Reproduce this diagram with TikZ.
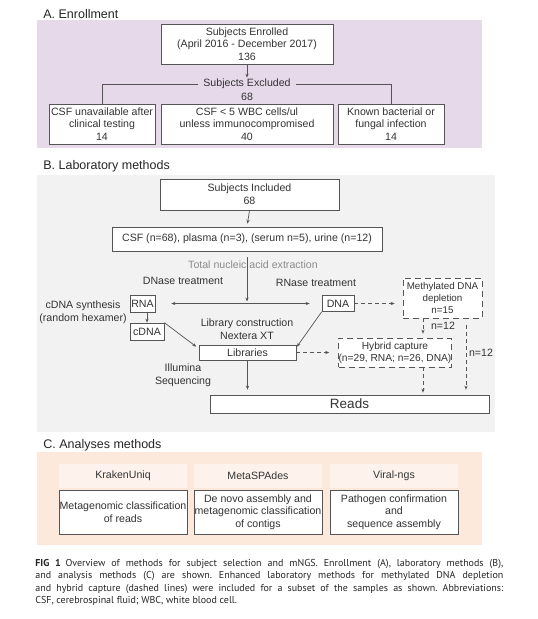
\documentclass[tikz,border=0pt]{standalone}
\usepackage{fontspec}
\setmainfont{Liberation Sans}
\newfontfamily\capfont{PT Sans}
\usetikzlibrary{calc,arrows.meta,positioning,backgrounds}
\definecolor{txtgray}{HTML}{333333}
\definecolor{linegray}{HTML}{555555}
\definecolor{extgray}{HTML}{8C8C8C}
\definecolor{bgpurple}{HTML}{E6DAEA}
\definecolor{bggray}{HTML}{F2F2F2}
\definecolor{bgpeach}{HTML}{FCE9DC}
\definecolor{hdpeach}{HTML}{FDF3EC}
\newcommand{\bodysize}{\fontsize{10.6}{12.7}\selectfont}
\tikzstyle{arrow} = [->,>={Stealth[length=4pt,width=3.2pt]}]
\tikzstyle{dasharrow} = [arrow,dash pattern=on 4pt off 3pt]
\tikzstyle{box} = [draw=linegray,fill=white,inner sep=0pt,align=center,text=txtgray]
\tikzstyle{dbox} = [box,dash pattern=on 6pt off 4pt]
\tikzstyle{hbox} = [fill=hdpeach,inner sep=0pt,align=center,text=txtgray,minimum width=128,minimum height=24]
\tikzstyle{lbl} = [inner sep=0pt,align=center,text=txtgray]
\tikzstyle{sectitle} = [inner sep=0pt,anchor=base west,text=black!85,font=\fontsize{12.5}{15}\selectfont]

\begin{document}
\begin{tikzpicture}[x=1pt,y=-1pt,font=\bodysize,draw=linegray,line width=0.7pt]

	\useasboundingbox[fill=white] (0,0) rectangle (538,619);

	%% (A) Enrollment
	\fill[bgpurple] (37,20) rectangle (482,148);
	\node[sectitle] (ttlA) at (43,18) {A. Enrollment};

	\node[box,minimum width=172,minimum height=40] (enr) at (247,44) {Subjects Enrolled\\(April 2016 - December 2017)\\136};
	\node[lbl,inner xsep=5pt] (excl) at (247,84) {Subjects Excluded};
	\node[lbl] (excln) at (247,97) {68};

	\node[box,minimum width=106,minimum height=40] (exA) at (102,124) {CSF unavailable after\\clinical testing\\14};
	\node[box,minimum width=172,minimum height=40] (exB) at (247,124) {CSF < 5 WBC cells/ul\\unless immunocompromised\\40};
	\node[box,minimum width=106,minimum height=40] (exC) at (391,124) {Known bacterial or\\fungal infection\\14};

	\draw[arrow,shorten >=1pt] (enr.south) -- (excl.north);
	\draw (excl.west) -| (exA.north);
	\draw (excl.east) -| (exC.north);

	%% (B) Laboratory methods
	\fill[bggray] (37,175) rectangle (495,432);
	\node[sectitle] (ttlB) at (43,169) {B. Laboratory methods};

	\node[box,minimum width=179,minimum height=31] (incl) at (249.5,194.5) {Subjects Included\\68};
	\node[box,minimum width=270,minimum height=24] (csf) at (247,239) {CSF (n=68), plasma (n=3), (serum n=5), urine (n=12)};

	\node[lbl,text=extgray] (ext) at (253,265) {Total nucleic acid extraction};
	\coordinate (extA) at (247,257); % top of the split line
	\coordinate (split) at (247,303.5);

	\node[box,minimum width=25,minimum height=17] (rna) at (142.5,303.5) {RNA};
	\node[box,minimum width=32,minimum height=16] (dna) at (338,303.5) {DNA};
	\node[box,minimum width=34,minimum height=17] (cdna) at (147,331.5) {cDNA};
	\node[box,minimum width=97,minimum height=15] (lib) at (247.5,352.5) {Libraries};
	\node[box,minimum width=279,minimum height=18,font=\fontsize{13.5}{15}\selectfont] (reads) at (349.5,404) {Reads};

	\node[dbox,minimum width=79,minimum height=40,font=\fontsize{9.8}{12}\selectfont] (meth) at (442.5,298) {Methylated DNA\\depletion\\n=15};
	\node[dbox,minimum width=108,minimum height=29,font=\fontsize{10.2}{12}\selectfont] (hyb) at (395,352.5) {Hybrid capture\\(n=29, RNA; n=26, DNA)};

	\node[lbl] (dnase) at (183,281) {DNase treatment};
	\node[lbl] (rnase) at (316,283) {RNase treatment};
	\node[lbl] (cdsyn) at (83,312) {cDNA synthesis\\(random hexamer)};
	\node[lbl] (libcon) at (247,329) {Library construction\\Nextera XT};
	\node[lbl] (illum) at (183,375.5) {Illumina\\Sequencing};

	\draw[arrow,shorten >=3pt] (incl.south) -- (csf.north);
	\draw[arrow,shorten >=2pt] (extA) -- (split);
	\draw[arrow,shorten >=16pt] (split) -- (rna.east);
	\draw[arrow,shorten >=12pt] (split) -- (dna.west);
	\draw[arrow] (cdna.north |- rna.south) -- (cdna.north);
	\draw[arrow,shorten >=3pt] (cdna.north east) -- ($(lib.west)+(0,-4)$);
	\draw[arrow,shorten >=1pt] (dna.south west) -- ($(lib.east)+(0,-5)$);
	\draw[arrow,shorten >=5pt] (lib.south) -- (lib.south |- reads.north);

	%% dashed (enhanced) paths
	\coordinate (mA) at (423,318);
	\coordinate (mB) at (466,325);
	\coordinate (hA) at (423,367);
	\draw[dasharrow,shorten >=8pt] (dna.east) -- (dna.east -| meth.west);
	\draw[dasharrow,shorten >=9pt] (lib.east) -- (lib.east -| hyb.west);
	\draw[dasharrow,shorten >=4pt] (mA) -- (mA |- hyb.north);
	\draw[dasharrow,shorten >=2pt] (hA) -- (hA |- reads.north);
	\draw[dasharrow,shorten >=5pt] (mB) -- (mB |- reads.north);
	\node[lbl] (nA) at (443,326) {n=12};
	\node[lbl] (nB) at (481,353) {n=12};

	%% (C) Analyses methods
	\fill[bgpeach] (37,452) rectangle (482,545);
	\node[sectitle] (ttlC) at (43,448) {C. Analyses methods};

	\node[hbox] (krak) at (123,476) {KrakenUniq};
	\node[hbox] (spad) at (258,476) {MetaSPAdes};
	\node[hbox] (vira) at (394,476) {Viral-ngs};
	\node[box,minimum width=128,minimum height=44] (krakD) at (123,512) {Metagenomic classification\\of reads};
	\node[box,minimum width=128,minimum height=44] (spadD) at (258,512) {De novo assembly and\\metagenomic classification\\of contigs};
	\node[box,minimum width=128,minimum height=44] (viraD) at (394,512) {Pathogen confirmation\\and\\sequence assembly};

	%% caption
	\node[anchor=north west,inner sep=0pt,text width=468pt,align=justify,text=black!85,font=\capfont\fontsize{10}{12.3}\selectfont\frenchspacing] (cap) at (35,559)
	{\textbf{FIG 1}\enspace Overview of methods for subject selection and mNGS. Enrollment (A), laboratory methods (B),\linebreak and analysis methods (C) are shown. Enhanced laboratory methods for methylated DNA depletion\linebreak and hybrid capture (dashed lines) were included for a subset of the samples as shown. Abbreviations:\linebreak CSF, cerebrospinal fluid; WBC, white blood cell.};

\end{tikzpicture}
\end{document}
